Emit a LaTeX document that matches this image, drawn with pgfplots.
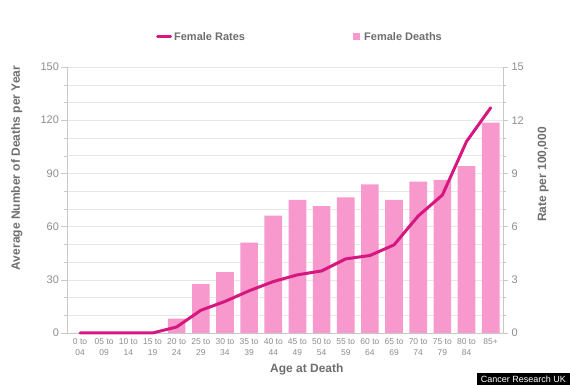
\documentclass[border=0pt]{standalone}
\usepackage{pgfplots}
\pgfplotsset{compat=1.18}
\usepackage{fontspec}
\setmainfont{Liberation Sans}
\definecolor{barpink}{HTML}{F799CC}
\definecolor{linemag}{HTML}{D6177F}
\definecolor{txtgray}{HTML}{6E6E6E}
\definecolor{tickgray}{HTML}{8C8C8C}
\definecolor{gridgray}{HTML}{E6E6E6}
\definecolor{axgray}{HTML}{C8C8C8}
\pgfplotstableread{
x deaths rate
0 0 0
1 0 0
2 0 0
3 0 0
4 8.1 0.34
5 27.6 1.28
6 34.3 1.78
7 51 2.38
8 66.2 2.9
9 75 3.28
10 71.6 3.5
11 76.5 4.18
12 83.8 4.37
13 75 4.97
14 85.3 6.6
15 86.4 7.78
16 94.1 10.8
17 118.7 12.7
}\datatable
\begin{document}
\begin{tikzpicture}[x=1pt,y=1pt]
\path[use as bounding box] (0,0) rectangle (570,385);
\begin{axis}[
  at={(67pt,52pt)}, anchor=south west,
  scale only axis, width=436pt, height=266pt,
  xmin=-0.54, xmax=17.51, ymin=0, ymax=150,
  axis x line=bottom, axis y line=left,
  axis line style={axgray, -},
  xtick=data,
  xticklabels={0 to\\04,05 to\\09,10 to\\14,15 to\\19,20 to\\24,25 to\\29,30 to\\34,35 to\\39,40 to\\44,45 to\\49,50 to\\54,55 to\\59,60 to\\64,65 to\\69,70 to\\74,75 to\\79,80 to\\84,85+\\\phantom{0}},
  xticklabel style={font=\fontsize{8.5}{10.5}\selectfont, text=tickgray, align=center, yshift=3.5pt},
  major x tick style={draw=none},
  ytick={0,30,...,150},
  minor ytick={10,20,...,150},
  ymajorgrids, yminorgrids,
  major grid style={gridgray},
  minor grid style={gridgray},
  tick align=outside,
  major tick length=6pt, minor tick length=3pt,
  y tick style={axgray},
  yticklabel style={font=\fontsize{11}{13}\selectfont, text=tickgray, xshift=1.5pt},
  /pgf/number format/assume math mode=true,
  xlabel={\bfseries Age at Death},
  xlabel style={font=\fontsize{12}{14}\selectfont, text=txtgray, at={(axis description cs:0.55,0)}, anchor=center, yshift=-36pt},
  ylabel={\bfseries Average Number of Deaths per Year},
  ylabel style={font=\fontsize{12}{14}\selectfont, text=txtgray, at={(axis description cs:-0.115,0.62)}, anchor=center},
  legend style={at={(axis description cs:0.656,1.113)}, anchor=west, draw=none, fill=none, inner xsep=0pt, inner ysep=0pt,
    font=\fontsize{11}{13}\selectfont\bfseries, text=txtgray},
  legend cell align=left,
  clip=false,
]
\addplot[ybar, bar width=0.73, fill=barpink, draw=none, bar shift=0,
  legend image code/.code={\fill[barpink] (0pt,-3.5pt) rectangle (7pt,3.5pt);\path (0pt,0pt) -- (9pt,0pt);}]
  table[x=x,y=deaths]{\datatable};
\addlegendentry{Female Deaths}
\end{axis}
\begin{axis}[
  at={(67pt,52pt)}, anchor=south west,
  scale only axis, width=436pt, height=266pt,
  xmin=-0.54, xmax=17.51, ymin=0, ymax=15,
  axis x line=none, axis y line=right,
  axis line style={axgray, -},
  ytick={0,3,...,15},
  minor ytick={1,2,...,15},
  tick align=outside,
  major tick length=5pt, minor tick length=3pt,
  y tick style={axgray},
  yticklabel style={font=\fontsize{11}{13}\selectfont, text=tickgray},
  /pgf/number format/assume math mode=true,
  ylabel={\bfseries Rate per 100,000},
  ylabel style={font=\fontsize{12}{14}\selectfont, text=txtgray, at={(axis description cs:1.092,0.596)}, anchor=center},
  legend style={at={(axis description cs:0.204,1.113)}, anchor=west, draw=none, fill=none, inner xsep=0pt, inner ysep=0pt,
    font=\fontsize{11}{13}\selectfont\bfseries, text=txtgray},
  legend cell align=left,
  clip=false,
]
\addplot[linemag, line width=3pt, line join=round, line cap=round,
  legend image code/.code={\draw[linemag, line width=3pt] (0pt,0pt) -- (13pt,0pt);}]
  table[x=x,y=rate]{\datatable};
\addlegendentry{Female Rates}
\end{axis}
\node[fill=black, text=white, font=\fontsize{9}{10}\selectfont, inner xsep=4pt, inner ysep=0pt, minimum height=12pt, anchor=south east] at (570,0) {Cancer Research UK};
\end{tikzpicture}
\end{document}
